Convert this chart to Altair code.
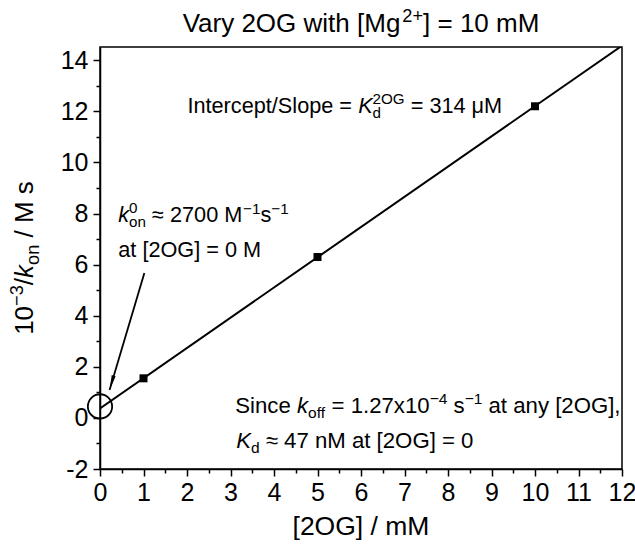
import altair as alt

FONT = "Liberation Sans"

# ---------------- data ----------------
conc_mM = [1, 5, 10]
inv_kon = [1.55, 6.3, 12.2]

x_domain = [0, 12]
y_domain = [-2, 14.52]
x_major = list(range(0, 13))
x_minor = [0.5 + i for i in range(12)]
y_major = list(range(-2, 15, 2))
y_minor = list(range(-1, 15, 2))

circle_x = [0]
circle_y = [0.45]
arrow_from = [1.02, 5.67]
arrow_to = [0.22, 1.09]
arrow_angle = 196

# annotation anchors (data units) and rich-text pieces
title_pos = [6.0, 15.10]
title_parts = [("Vary 2OG with [Mg", "n"), ("2+", "sup"), ("] = 10 mM", "n")]

slope_pos = [2.01, 11.92]
slope_parts = [("Intercept/Slope = ", "n"), ("K", "i"), (("d", "2OG"), "subsup"), (" = 314 μM", "n")]

kon_pos = [0.42, 7.66]
kon_parts = [("k", "i"), (("on", "0"), "subsup"), (" ≈ 2700 M", "n"), ("−1", "sup"), ("s", "n"), ("−1", "sup")]

at_pos = [0.42, 6.29]
at_parts = [("at [2OG] = 0 M", "n")]

since_pos = [3.11, 0.18]
since_parts = [("Since ", "n"), ("k", "i"), ("off", "sub"), (" = 1.27x10", "n"), ("−4", "sup"),
               (" s", "n"), ("−1", "sup"), (" at any [2OG],", "n")]

kd_pos = [3.13, -1.19]
kd_parts = [("K", "i"), ("d", "sub"), (" ≈ 47 nM at [2OG] = 0", "n")]

xtitle_pos = [6.0, -4.60]
xtitle_parts = [("[2OG] / mM", "n")]

ytitle_pos = [-1.53, 6.26]
ytitle_parts = [("10", "n"), ("−3", "sup"), ("/", "n"), ("k", "i"), ("on", "sub"), (" / M s", "n")]

# ---------------- helpers ----------------
W = {' ': 278, ',': 278, '-': 333, '.': 278, '/': 278, '=': 584, '+': 584, '[': 278, ']': 278,
     '≈': 584, '−': 584, 'μ': 576}
for d in "0123456789":
    W[d] = 556
W.update(dict(A=667, B=667, C=722, D=722, E=667, F=611, G=778, H=722, I=278, J=500, K=667, L=556,
              M=833, N=722, O=778, P=667, Q=778, R=722, S=667, T=611, U=722, V=667, W=944, X=667,
              Y=667, Z=611))
W.update(dict(a=556, b=556, c=500, d=556, e=556, f=278, g=556, h=556, i=222, j=222, k=500, l=222,
              m=833, n=556, o=556, p=556, q=556, r=333, s=500, t=278, u=556, v=500, w=722, x=500,
              y=500, z=500))


def tw(s, size):
    return sum(W.get(c, 556) for c in s) / 1000.0 * size


xs = alt.Scale(domain=x_domain, nice=False, zero=False)
ys = alt.Scale(domain=y_domain, nice=False, zero=False)

x_axis = alt.Axis(
    values=x_major + x_minor,
    labelExpr="datum.value % 1 === 0 ? toString(datum.value) : ''",
    tickSize={"condition": {"test": "datum.value % 1 !== 0", "value": 4}, "value": 7},
    labelFontSize=25, labelPadding=4, labelFont=FONT, labelColor="black",
    labelOverlap=False, labelFlush=False, title=None, grid=False,
    domainColor="black", domainWidth=1.5, tickColor="black", tickWidth=1.5,
)
y_axis = alt.Axis(
    values=y_major + y_minor,
    labelExpr="datum.value % 2 === 0 ? toString(datum.value) : ''",
    tickSize={"condition": {"test": "datum.value % 2 !== 0", "value": 4}, "value": 7},
    labelFontSize=25, labelPadding=5, labelFont=FONT, labelColor="black",
    labelOverlap=False, labelFlush=False, title=None, grid=False,
    domainColor="black", domainWidth=1.5, tickColor="black", tickWidth=1.5,
)


def X(f):
    return alt.X(f, scale=xs, axis=x_axis)


def Y(f):
    return alt.Y(f, scale=ys, axis=y_axis)


def rich(anchor, parts, size, align="left", angle=0):
    small = 0.7 * size
    segs = []
    pos = 0.0
    for text, kind in parts:
        if kind in ("n", "i"):
            segs.append((text, pos, 0.0, size, "italic" if kind == "i" else "normal"))
            pos += tw(text, size)
        elif kind == "sup":
            segs.append((text, pos, -0.40 * size, small, "normal"))
            pos += tw(text, small)
        elif kind == "sub":
            segs.append((text, pos, 0.22 * size, small, "normal"))
            pos += tw(text, small)
        elif kind == "subsup":
            sb, sp = text
            segs.append((sb, pos, 0.22 * size, small, "normal"))
            segs.append((sp, pos, -0.42 * size, small, "normal"))
            pos += max(tw(sb, small), tw(sp, small))
    shift = -pos / 2.0 if align == "center" else 0.0
    layers = []
    for text, dx, dy, fs, style in segs:
        lead = len(text) - len(text.lstrip(" "))
        dx += lead * W[' '] / 1000.0 * fs
        text = text.lstrip(" ")
        layers.append(
            alt.Chart(alt.Data(values=[{"x": anchor[0], "y": anchor[1], "t": text}]))
            .mark_text(align="left", baseline="alphabetic", dx=dx + shift, dy=dy, fontSize=fs,
                       fontStyle=style, angle=angle, font=FONT, color="black")
            .encode(x=X("x:Q"), y=Y("y:Q"), text="t:N")
        )
    return layers


# ---------------- main layers ----------------
pts = alt.Data(values=[{"c": c, "v": v} for c, v in zip(conc_mM, inv_kon)])

fit = (
    alt.Chart(pts)
    .transform_regression("c", "v", extent=x_domain)
    .mark_line(color="black", strokeWidth=2, clip=True)
    .encode(x=X("c:Q"), y=Y("v:Q"))
)

squares = (
    alt.Chart(pts)
    .mark_point(shape="square", filled=True, size=64, color="black", opacity=1)
    .encode(x=X("c:Q"), y=Y("v:Q"))
)

circ = (
    alt.Chart(alt.Data(values=[{"x": a, "y": b} for a, b in zip(circle_x, circle_y)]))
    .mark_point(shape="circle", filled=False, size=590, stroke="black", strokeWidth=1.8, opacity=1)
    .encode(x=X("x:Q"), y=Y("y:Q"))
)

arrow_line = (
    alt.Chart(alt.Data(values=[{"x": arrow_from[0], "y": arrow_from[1],
                                "x2": arrow_to[0], "y2": arrow_to[1]}]))
    .mark_rule(color="black", strokeWidth=1.8)
    .encode(x=X("x:Q"), y=Y("y:Q"), x2="x2:Q", y2="y2:Q")
)

arrow_head = (
    alt.Chart(alt.Data(values=[{"x": arrow_to[0], "y": arrow_to[1]}]))
    .mark_point(shape="M0,0L0.27,2L-0.27,2Z", filled=True, size=225, color="black",
                opacity=1, angle=arrow_angle)
    .encode(x=X("x:Q"), y=Y("y:Q"))
)

texts = []
texts += rich(title_pos, title_parts, 26, align="center")
texts += rich(slope_pos, slope_parts, 21.7)
texts += rich(kon_pos, kon_parts, 21.7)
texts += rich(at_pos, at_parts, 21.7)
texts += rich(since_pos, since_parts, 22.2)
texts += rich(kd_pos, kd_parts, 22.2)
texts += rich(xtitle_pos, xtitle_parts, 26.5, align="center")
texts += rich(ytitle_pos, ytitle_parts, 26, align="center", angle=270)

chart = (
    alt.layer(fit, squares, circ, arrow_line, arrow_head, *texts)
    .properties(
        width=522, height=422,
        padding={"left": 100, "top": 47, "right": 13, "bottom": 75},
        autosize=alt.AutoSizeParams(type="none"),
        background="white",
    )
    .configure_view(stroke="black", strokeWidth=1.5)
)

chart.save("out.html", embed_options={"renderer": "svg", "actions": False})
